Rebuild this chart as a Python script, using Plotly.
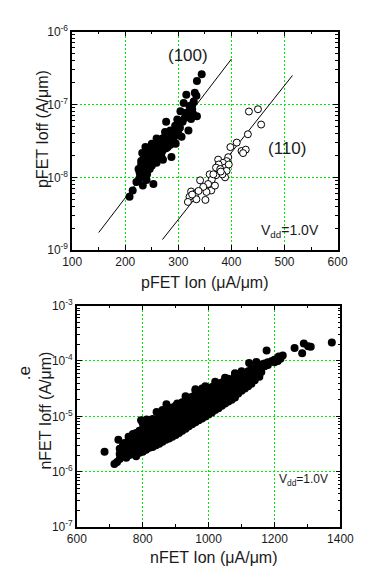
import plotly.graph_objects as go

# ---------------- data: top panel (pFET) ----------------
p100_ion = [344, 335, 315, 331, 334, 310, 321, 326, 304, 315, 328, 335, 324, 298, 277, 319, 294, 285,
            300, 280, 306, 259, 268, 291, 250, 238, 277, 262, 285, 232, 253, 268, 287, 230, 244, 259,
            236, 250, 227, 241, 238, 253, 233, 221, 214, 208,
            225, 230, 235, 240, 245, 248, 252, 255, 258, 262, 265, 270, 272, 275, 278, 282, 285, 288,
            290, 293, 296, 300, 303, 308, 312, 318, 322, 326, 329, 232, 228, 236, 246, 243, 240, 256,
            265, 270, 280, 295, 240, 226, 246, 262, 275, 300, 271]
p100_ioff = [2.6e-7, 2.1e-7, 1.36e-7, 1.45e-7, 1.32e-7, 1.05e-7, 9.5e-8, 8.6e-8, 8.1e-8, 7.7e-8, 7.4e-8,
             6.9e-8, 6.3e-8, 6.2e-8, 5.8e-8, 4.4e-8, 5.1e-8, 4.4e-8, 4.0e-8, 3.8e-8, 3.6e-8, 3.4e-8,
             3.1e-8, 3.2e-8, 2.9e-8, 2.6e-8, 2.5e-8, 2.4e-8, 2.8e-8, 2.15e-8, 2.05e-8, 1.95e-8, 1.9e-8,
             1.67e-8, 1.67e-8, 1.58e-8, 1.36e-8, 1.44e-8, 1.17e-8, 1.1e-8, 1.0e-8, 8.1e-9, 7.7e-9,
             8.6e-9, 6.6e-9, 5.4e-9,
             1.3e-8, 1.5e-8, 1.9e-8, 2.2e-8, 2.4e-8, 2.0e-8, 2.5e-8, 2.7e-8, 2.2e-8, 2.9e-8, 2.6e-8,
             3.4e-8, 2.8e-8, 3.6e-8, 3.0e-8, 3.4e-8, 3.9e-8, 3.3e-8, 4.2e-8, 3.7e-8, 4.5e-8, 5.5e-8,
             4.8e-8, 5.8e-8, 6.5e-8, 7.3e-8, 8.2e-8, 9.8e-8, 1.1e-7, 1.2e-8, 1.05e-8, 1.2e-8, 1.3e-8,
             1.8e-8, 1.45e-8, 1.75e-8, 2.1e-8, 2.3e-8, 2.6e-8, 2.9e-8, 9.2e-9, 9.5e-9, 1.55e-8,
             3.2e-8, 4.2e-8, 6.0e-8, 1.75e-8]

p110_ion = [433, 450, 456, 431, 410, 398, 419, 427, 422, 394, 375, 391, 384, 376, 371, 388, 379, 391,
            388, 371, 359, 363, 341, 356, 362, 353, 347, 324, 332, 321, 334, 318, 351, 369, 383, 380,
            395, 366, 326, 338]
p110_ioff = [8.0e-8, 8.6e-8, 5.3e-8, 3.9e-8, 3.0e-8, 2.6e-8, 2.3e-8, 2.4e-8, 2.15e-8, 1.89e-8, 1.75e-8,
             1.67e-8, 1.58e-8, 1.5e-8, 1.36e-8, 1.36e-8, 1.3e-8, 1.23e-8, 1.0e-8, 1.07e-8, 1.1e-8,
             9.3e-9, 9.1e-9, 8.1e-9, 6.6e-9, 6.3e-9, 7.4e-9, 6.4e-9, 6.0e-9, 5.4e-9, 5.0e-9, 4.6e-9,
             4.9e-9, 7.7e-9, 1.1e-8, 1.2e-8, 1.5e-8, 1.1e-8, 5.8e-9, 6.5e-9]

fit100_ion = [150, 400]
fit100_ioff = [1.75e-9, 4.2e-7]
fit110_ion = [270, 515]
fit110_ioff = [1.4e-9, 2.5e-7]

# ---------------- data: bottom panel (nFET) ----------------
n_ion = [684, 714, 722, 726, 757, 795, 818, 842, 872, 1176, 1261, 1284, 1289, 1310, 1302, 1374, 1225,
         1218, 1213, 1192, 1145, 1123, 1159, 1154,
         730, 730, 730, 740, 740, 740, 750, 750, 750, 750, 760, 760, 760, 760,
         770, 770, 770, 770, 780, 780, 780, 780, 780, 790, 790, 790, 790, 790,
         800, 800, 800, 800, 800, 800, 810, 810, 810, 810, 810, 820, 820, 820, 820, 820,
         830, 830, 830, 830, 830, 830, 840, 840, 840, 840, 840,
         850, 850, 850, 850, 850, 850, 860, 860, 860, 860, 860, 860,
         870, 870, 870, 870, 870, 870, 880, 880, 880, 880, 880, 880,
         890, 890, 890, 890, 890, 890, 900, 900, 900, 900, 900, 900,
         910, 910, 910, 910, 910, 920, 920, 920, 920, 920, 920,
         930, 930, 930, 930, 930, 930, 940, 940, 940, 940, 940, 940,
         950, 950, 950, 950, 950, 950, 960, 960, 960, 960, 960, 960, 960,
         970, 970, 970, 970, 970, 970, 980, 980, 980, 980, 980, 980, 980,
         990, 990, 990, 990, 990, 990, 1000, 1000, 1000, 1000, 1000, 1000,
         1010, 1010, 1010, 1010, 1010, 1010, 1020, 1020, 1020, 1020, 1020, 1020,
         1030, 1030, 1030, 1030, 1030, 1030, 1040, 1040, 1040, 1040, 1040, 1040,
         1050, 1050, 1050, 1050, 1050, 1050, 1060, 1060, 1060, 1060, 1060, 1060,
         1070, 1070, 1070, 1070, 1070, 1080, 1080, 1080, 1080, 1080, 1080,
         1090, 1090, 1090, 1090, 1090, 1100, 1100, 1100, 1100, 1100,
         1110, 1110, 1110, 1110, 1110, 1120, 1120, 1120, 1120, 1120,
         1130, 1130, 1130, 1130, 1130, 1140, 1140, 1140, 1140,
         1150, 1150, 1150, 1160, 1160, 1160, 1170, 1170, 1180, 1180, 1200, 1200, 1210, 1210,
         745, 770, 812, 860, 905, 930, 960, 990, 1020, 1050, 1080, 1100]
n_ioff = [2.3e-6, 1.38e-6, 1.5e-6, 3.8e-6, 4.3e-6, 8.5e-6, 8.5e-6, 1.2e-5, 1.66e-5, 1.54e-4, 1.71e-4,
          1.38e-4, 2.07e-4, 1.8e-4, 1.85e-4, 2.15e-4, 1.26e-4, 1.1e-4, 1.2e-4, 1.0e-4, 9.6e-5, 9.2e-5,
          7.3e-5, 5.2e-5,
          1.7e-6, 2.1e-6, 2.6e-6, 1.9e-6, 2.4e-6, 3.0e-6, 1.8e-6, 2.2e-6, 2.8e-6, 3.3e-6,
          2.0e-6, 2.5e-6, 3.1e-6, 3.7e-6,
          2.1e-6, 2.7e-6, 3.4e-6, 4.2e-6, 1.9e-6, 2.4e-6, 3.0e-6, 3.8e-6, 5.0e-6,
          2.2e-6, 2.8e-6, 3.5e-6, 4.4e-6, 5.5e-6,
          2.3e-6, 2.9e-6, 3.7e-6, 4.7e-6, 6.0e-6, 7.5e-6, 2.5e-6, 3.2e-6, 4.0e-6, 5.0e-6, 6.3e-6,
          2.7e-6, 3.4e-6, 4.3e-6, 5.4e-6, 6.8e-6,
          2.8e-6, 3.6e-6, 4.6e-6, 5.8e-6, 7.3e-6, 9.0e-6, 3.0e-6, 3.9e-6, 5.0e-6, 6.3e-6, 7.9e-6,
          3.2e-6, 4.2e-6, 5.3e-6, 6.7e-6, 8.5e-6, 1.05e-5, 3.5e-6, 4.5e-6, 5.7e-6, 7.2e-6, 9.2e-6, 1.15e-5,
          3.8e-6, 4.8e-6, 6.1e-6, 7.8e-6, 1.0e-5, 1.3e-5, 4.0e-6, 5.2e-6, 6.6e-6, 8.4e-6, 1.07e-5, 1.35e-5,
          4.3e-6, 5.6e-6, 7.1e-6, 9.0e-6, 1.15e-5, 1.45e-5, 4.6e-6, 6.0e-6, 7.6e-6, 9.7e-6, 1.23e-5, 1.55e-5,
          5.0e-6, 6.4e-6, 8.2e-6, 1.04e-5, 1.32e-5, 5.5e-6, 7.0e-6, 8.9e-6, 1.12e-5, 1.42e-5, 1.8e-5,
          6.0e-6, 7.6e-6, 9.6e-6, 1.21e-5, 1.53e-5, 1.95e-5, 6.6e-6, 8.3e-6, 1.04e-5, 1.3e-5, 1.65e-5, 2.1e-5,
          7.2e-6, 9.0e-6, 1.13e-5, 1.4e-5, 1.78e-5, 2.25e-5, 7.8e-6, 9.8e-6, 1.22e-5, 1.52e-5, 1.9e-5, 2.4e-5, 2.9e-5,
          8.5e-6, 1.06e-5, 1.32e-5, 1.65e-5, 2.05e-5, 2.6e-5, 9.2e-6, 1.15e-5, 1.43e-5, 1.78e-5, 2.2e-5, 2.8e-5, 3.2e-5,
          1.0e-5, 1.25e-5, 1.55e-5, 1.92e-5, 2.4e-5, 3.0e-5, 1.08e-5, 1.35e-5, 1.68e-5, 2.1e-5, 2.6e-5, 3.2e-5,
          1.18e-5, 1.47e-5, 1.82e-5, 2.25e-5, 2.8e-5, 3.4e-5, 1.3e-5, 1.6e-5, 1.98e-5, 2.45e-5, 3.0e-5, 3.6e-5,
          1.4e-5, 1.72e-5, 2.12e-5, 2.6e-5, 3.2e-5, 3.9e-5, 1.55e-5, 1.9e-5, 2.3e-5, 2.8e-5, 3.4e-5, 4.1e-5,
          1.7e-5, 2.05e-5, 2.5e-5, 3.0e-5, 3.7e-5, 4.5e-5, 1.85e-5, 2.25e-5, 2.7e-5, 3.3e-5, 4.0e-5, 4.8e-5,
          2.0e-5, 2.45e-5, 2.95e-5, 3.6e-5, 4.3e-5, 2.2e-5, 2.65e-5, 3.2e-5, 3.9e-5, 4.7e-5, 5.5e-5,
          2.6e-5, 3.0e-5, 3.5e-5, 4.2e-5, 5.0e-5, 2.9e-5, 3.3e-5, 3.8e-5, 4.5e-5, 5.4e-5,
          3.2e-5, 3.6e-5, 4.2e-5, 5.0e-5, 5.9e-5, 3.5e-5, 4.0e-5, 4.7e-5, 5.5e-5, 6.5e-5,
          3.9e-5, 4.5e-5, 5.3e-5, 6.2e-5, 7.2e-5, 4.5e-5, 5.3e-5, 6.2e-5, 7.3e-5,
          5.8e-5, 6.8e-5, 8.0e-5, 6.3e-5, 7.5e-5, 8.6e-5, 8.0e-5, 9.0e-5, 8.5e-5, 9.5e-5, 9.5e-5, 1.05e-4,
          1.0e-4, 1.12e-4,
          3.3e-6, 4.8e-6, 8.8e-6, 1.3e-5, 1.7e-5, 2.3e-5, 3.1e-5, 3.5e-5, 4.2e-5, 5.0e-5, 6.0e-5, 6.5e-5]

# tick labels
top_x_ticks = [100, 200, 300, 400, 500, 600]
bot_x_ticks = [600, 800, 1000, 1200, 1400]
top_y_ticks = [1e-9, 1e-8, 1e-7, 1e-6]
top_y_text = ["10<sup>-9</sup>", "10<sup>-8</sup>", "10<sup>-7</sup>", "10<sup>-6</sup>"]
bot_y_ticks = [1e-7, 1e-6, 1e-5, 1e-4, 1e-3]
bot_y_text = ["10<sup>-7</sup>", "10<sup>-6</sup>", "10<sup>-5</sup>", "10<sup>-4</sup>", "10<sup>-3</sup>"]

FONT = "Liberation Sans, Arial, sans-serif"
GRID = "rgb(0,235,0)"
TXT = "#1a1a1a"

fig = go.Figure()
fig.add_trace(go.Scatter(x=fit100_ion, y=fit100_ioff, mode="lines",
                         line=dict(color="black", width=1), xaxis="x", yaxis="y", showlegend=False))
fig.add_trace(go.Scatter(x=fit110_ion, y=fit110_ioff, mode="lines",
                         line=dict(color="black", width=1), xaxis="x", yaxis="y", showlegend=False))
fig.add_trace(go.Scatter(x=p100_ion, y=p100_ioff, mode="markers", name="(100)",
                         marker=dict(color="black", size=8, line=dict(width=0)),
                         xaxis="x", yaxis="y", showlegend=False))
fig.add_trace(go.Scatter(x=p110_ion, y=p110_ioff, mode="markers", name="(110)",
                         marker=dict(color="white", size=7, line=dict(color="black", width=1)),
                         xaxis="x", yaxis="y", showlegend=False))
fig.add_trace(go.Scatter(x=n_ion, y=n_ioff, mode="markers", name="nFET",
                         marker=dict(color="black", size=8, line=dict(width=0)),
                         xaxis="x2", yaxis="y2", showlegend=False))


def minor_log(lo, hi):
    vals = []
    for e in range(lo, hi):
        for m in range(2, 10):
            vals.append(m * 10.0 ** e)
    return vals


common_axis = dict(showline=True, linecolor="black", linewidth=1.5, mirror="allticks",
                   ticks="inside", ticklen=5, tickcolor="black", tickwidth=1,
                   showgrid=True, gridcolor=GRID, gridwidth=1, griddash="2px,2px",
                   zeroline=False, tickfont=dict(family=FONT, size=12, color=TXT))
minor_common = dict(ticks="inside", ticklen=3, tickcolor="black", showgrid=False)

fig.update_layout(
    width=366, height=566,
    margin=dict(l=0, r=0, t=0, b=0),
    paper_bgcolor="white", plot_bgcolor="white",
    font=dict(family=FONT, color=TXT),
    showlegend=False,
    xaxis=dict(domain=[58 / 366, 342 / 366], anchor="y", range=[100, 600],
               tickvals=top_x_ticks,
               minor=dict(tickvals=[150, 250, 350, 450, 550], **minor_common),
               **common_axis),
    yaxis=dict(domain=[1 - 240 / 566, 1 - 15 / 566], anchor="x", type="log", range=[-9, -6],
               tickvals=top_y_ticks, ticktext=top_y_text,
               minor=dict(tickvals=minor_log(-9, -6), **minor_common),
               **common_axis),
    xaxis2=dict(domain=[63 / 366, 345 / 366], anchor="y2", range=[600, 1400],
                tickvals=bot_x_ticks,
                minor=dict(tickvals=[700, 900, 1100, 1300], **minor_common),
                **common_axis),
    yaxis2=dict(domain=[1 - 525 / 566, 1 - 297 / 566], anchor="x2", type="log", range=[-7, -3],
                tickvals=bot_y_ticks, ticktext=bot_y_text,
                minor=dict(tickvals=minor_log(-7, -3), **minor_common),
                **common_axis),
)

annos = [
    # axis titles
    dict(text="pFET Ion (\u03bcA/\u03bcm)", x=200, y=273, size=16),
    dict(text="pFET Ioff (A/\u03bcm)", x=26, y=115, size=16, angle=-90),
    dict(text="nFET Ion (\u03bcA/\u03bcm)", x=210, y=556, size=16),
    dict(text="nFET Ioff (A/\u03bcm)", x=30, y=405, size=16, angle=-90),
    # labels in plots
    dict(text="(100)", x=182, y=40, size=17),
    dict(text="(110)", x=288, y=135, size=17),
    dict(text="V<sub>dd</sub>=1.0V", x=291, y=220, size=14),
    dict(text="V<sub>dd</sub>=1.0V", x=305, y=476, size=12),
    dict(text=".e", x=7, y=367, size=17, angle=-90),
]
for a in annos:
    fig.add_annotation(xref="paper", yref="paper", showarrow=False,
                       xanchor="center", yanchor="middle",
                       text=a["text"], x=a["x"] / 366, y=1 - a["y"] / 566,
                       font=dict(family=FONT, color=TXT, size=a["size"]),
                       textangle=a.get("angle", 0))

fig.write_html("out.html")
